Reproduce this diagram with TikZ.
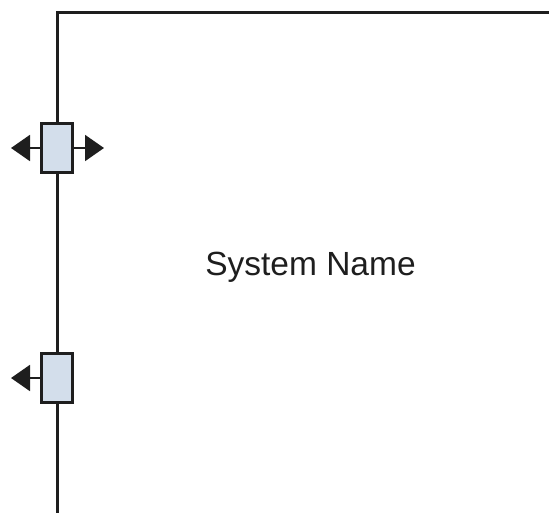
\documentclass[tikz,border=0pt]{standalone}
\usepackage{fontspec}
\setmainfont{Liberation Sans}
\usetikzlibrary{arrows.meta}
\definecolor{boxfill}{HTML}{D3DEEB}
\definecolor{ink}{HTML}{1E1E1E}
\begin{document}
\begin{tikzpicture}[x=1pt,y=-1pt,
  port/.style={draw=ink,line width=2.8pt,fill=boxfill,minimum width=31pt,minimum height=49pt,inner sep=0pt},
  border/.style={draw=ink,line width=3pt},
  flow/.style={draw=ink,line width=2pt,-{Triangle[length=19pt,width=26pt]}}]
\useasboundingbox (0,0) rectangle (549,512);
\coordinate (bl) at (57.5,513);
\coordinate (tl) at (57.5,12);
\coordinate (tr) at (550,12);
\draw[border] (bl) -- (tl) -- (tr);
\node[port] (p1) at (57,148) {};
\node[port] (p2) at (57,378) {};
\coordinate (a1l) at (11,148);
\coordinate (a1r) at (104,148);
\coordinate (a2l) at (11,378);
\draw[flow] (p1.west) -- (a1l);
\draw[flow] (p1.east) -- (a1r);
\draw[flow] (p2.west) -- (a2l);
\node[font=\fontsize{33.5}{40}\selectfont,text=ink,anchor=base,inner sep=0pt] (name) at (310.5,275) {System Name};
\end{tikzpicture}
\end{document}
